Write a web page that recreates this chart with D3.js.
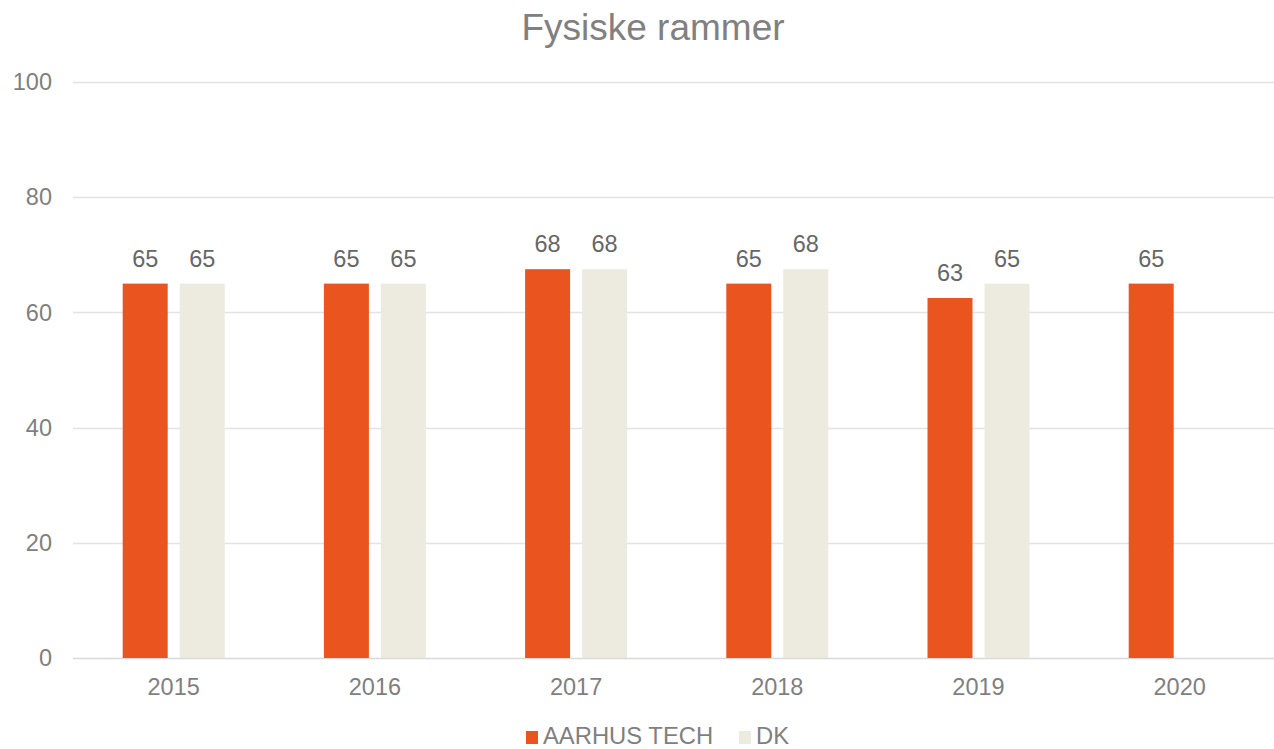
<!DOCTYPE html>
<html><head><meta charset="utf-8">
<script src="https://cdn.jsdelivr.net/npm/d3@7"></script>
<style>body{margin:0;background:#fff}svg{display:block;font-family:"Liberation Sans",Arial,sans-serif}</style>
</head><body>
<svg id="c" width="1274" height="749"></svg>
<script>
const categories = ["2015","2016","2017","2018","2019","2020"];
const seriesNames = ["AARHUS TECH","DK"];
const aarhusTech = [65, 65, 67.5, 65, 62.5, 65];
const dk = [65, 65, 67.5, 67.5, 65, null];
const labelsAarhus = ["65","65","68","65","63","65"];
const labelsDk = ["65","65","68","68","65",""];
const yTicks = [0,20,40,60,80,100];
const colors = ["#E9541F","#EDEBE0"];

const svg = d3.select("#c");
const x = d3.scaleBand().domain(categories).range([73.1, 1280.3]).paddingInner(0).paddingOuter(0);
const y = d3.scaleLinear().domain([0,100]).range([658, 82]);
const sub = d3.scaleBand().domain([0,1]).range([-51, 51]).paddingInner(12/57).paddingOuter(0);

// gridlines
svg.append("g").selectAll("line").data(yTicks).join("line")
  .attr("x1", 73).attr("x2", 1274)
  .attr("y1", d => Math.round(y(d)) + 0.5).attr("y2", d => Math.round(y(d)) + 0.5)
  .attr("stroke", d => d === 0 ? "#d9d9d9" : "#e3e3e3").attr("stroke-width", 1.5);

// y tick labels
svg.append("g").selectAll("text").data(yTicks).join("text")
  .attr("x", 52).attr("y", d => y(d)).attr("dy", "0.35em")
  .attr("text-anchor", "end").attr("font-size", 23.5).attr("fill", "#7f7f7f")
  .text(d => d);

// x labels
svg.append("g").selectAll("text").data(categories).join("text")
  .attr("x", d => x(d) + x.bandwidth()/2).attr("y", 695)
  .attr("text-anchor", "middle").attr("font-size", 23.5).attr("fill", "#7f7f7f")
  .text(d => d);

const series = [aarhusTech, dk];
const labels = [labelsAarhus, labelsDk];
series.forEach((vals, si) => {
  const data = categories.map((c, i) => ({c, v: vals[i], l: labels[si][i]})).filter(d => d.v != null);
  const g = svg.append("g");
  g.selectAll("rect").data(data).join("rect")
    .attr("x", d => x(d.c) + x.bandwidth()/2 + sub(si))
    .attr("width", sub.bandwidth())
    .attr("y", d => y(d.v)).attr("height", d => y(0) - y(d.v))
    .attr("fill", colors[si]);
  g.selectAll("text").data(data).join("text")
    .attr("x", d => x(d.c) + x.bandwidth()/2 + sub(si) + sub.bandwidth()/2)
    .attr("y", d => y(d.v) - 17)
    .attr("text-anchor", "middle").attr("font-size", 23.5).attr("fill", "#666666")
    .text(d => d.l);
});

// title
svg.append("text").attr("x", 653).attr("y", 40).attr("text-anchor", "middle")
  .attr("font-size", 37).attr("fill", "#808080").text("Fysiske rammer");

// legend
const legX = [526, 739];
seriesNames.forEach((n, i) => {
  svg.append("rect").attr("x", legX[i]).attr("y", 731).attr("width", 12).attr("height", 13).attr("fill", colors[i]);
  svg.append("text").attr("x", legX[i] + 17).attr("y", 744).attr("font-size", 23.8).attr("fill", "#7f7f7f").text(n);
});
</script>
</body></html>
